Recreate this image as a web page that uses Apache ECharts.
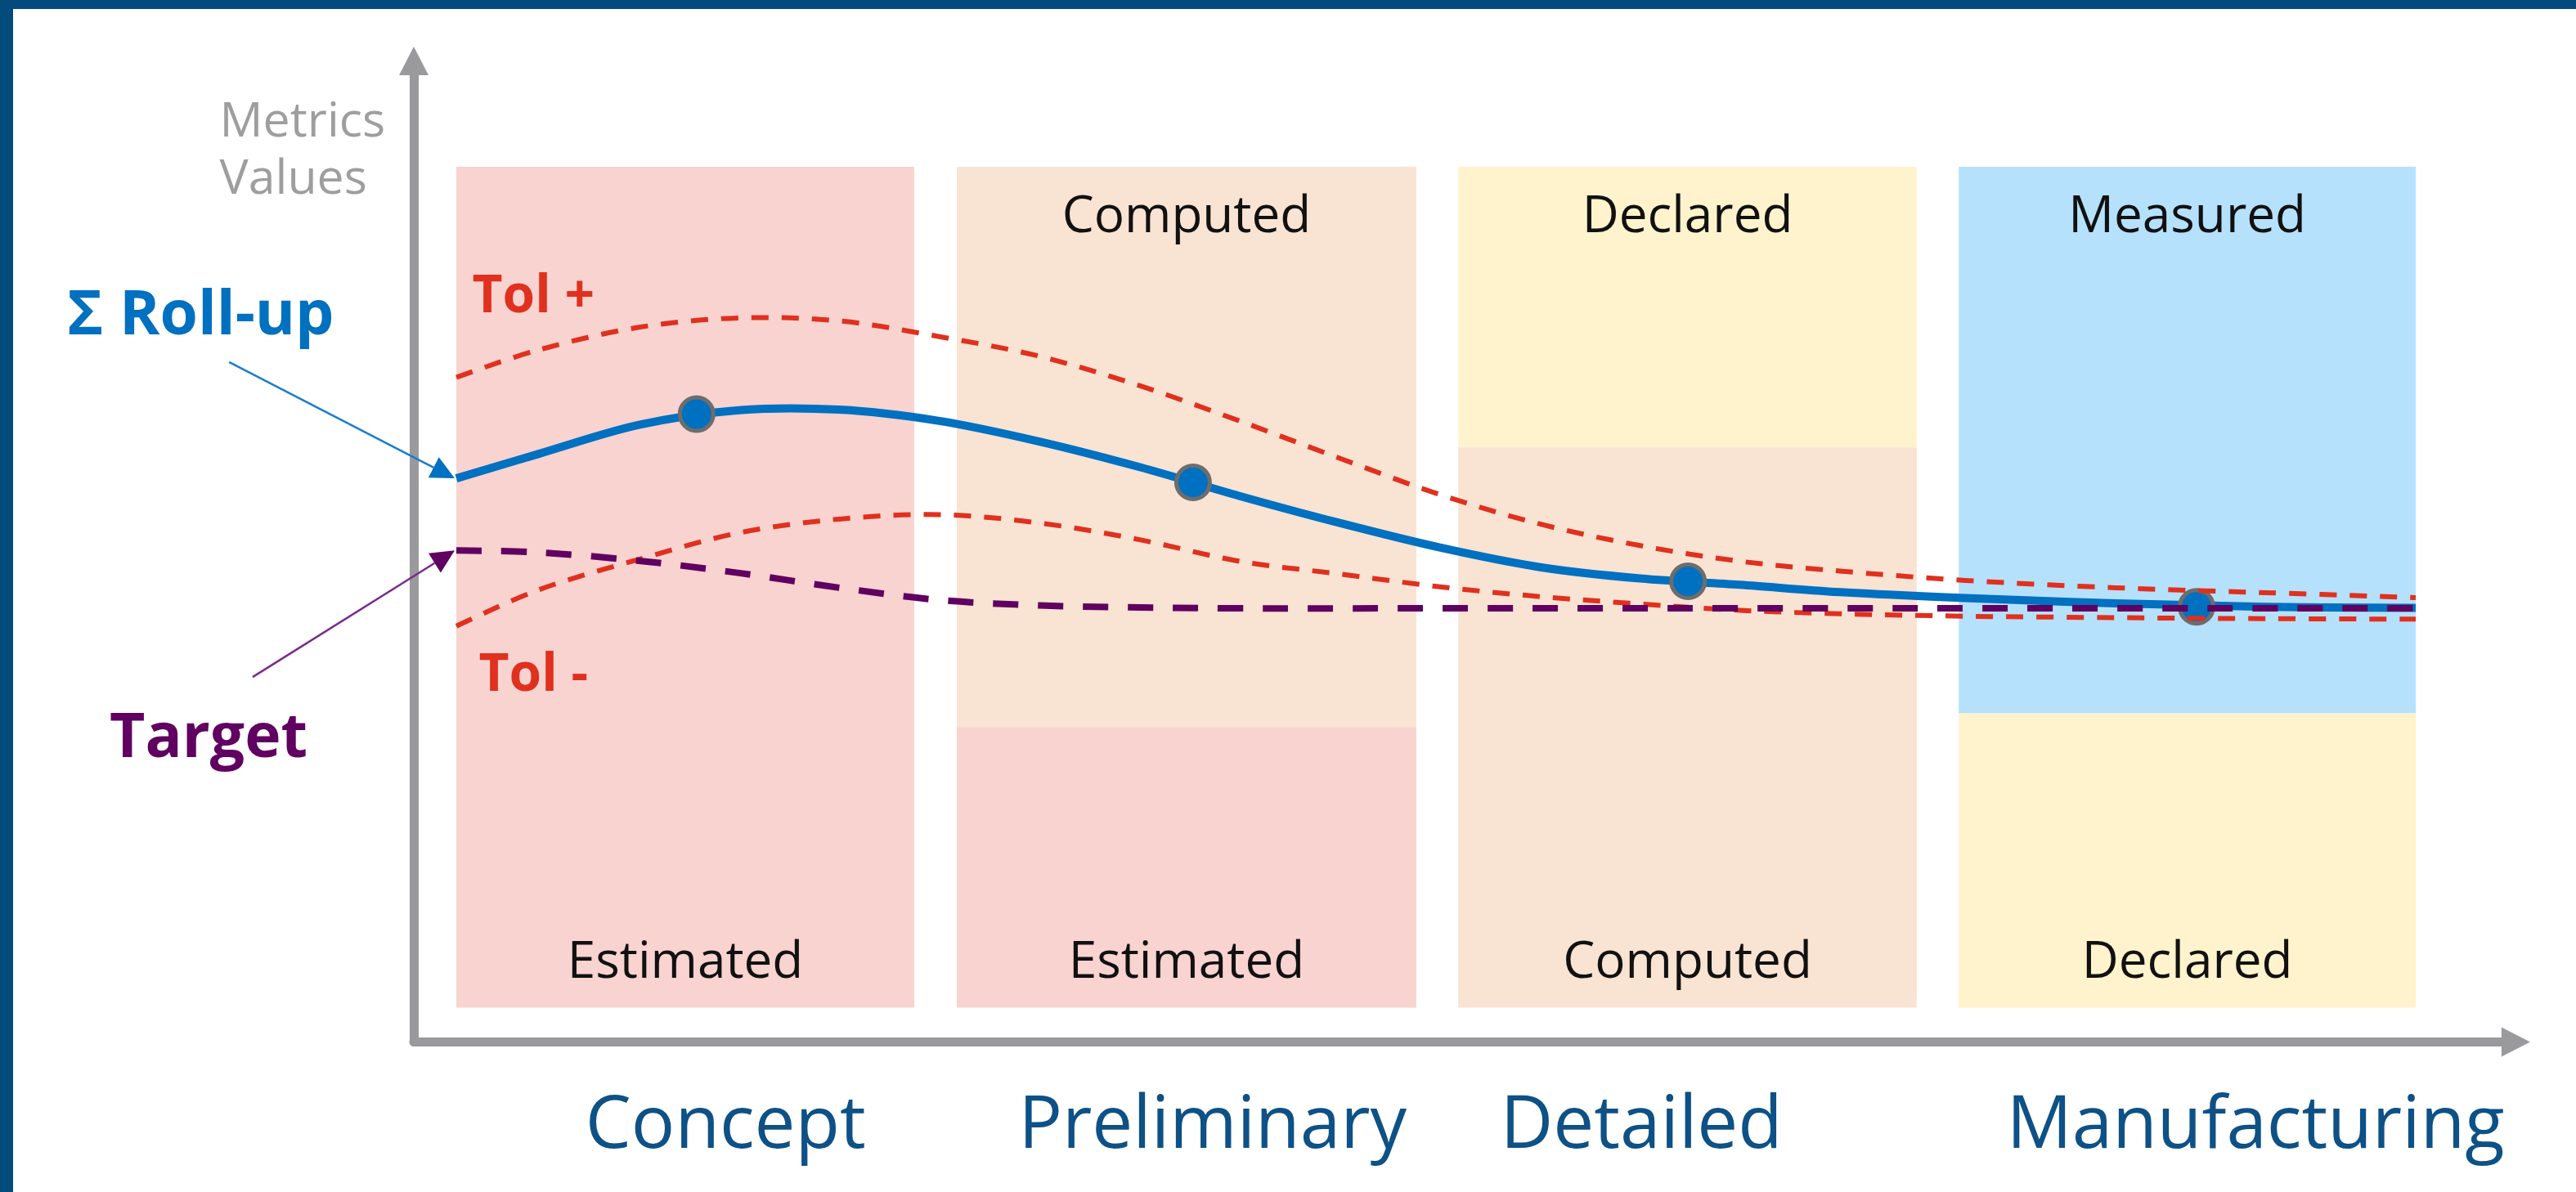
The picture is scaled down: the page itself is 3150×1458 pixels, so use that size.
<!DOCTYPE html>
<html><head><meta charset="utf-8">
<script src="https://cdn.jsdelivr.net/npm/echarts@6/dist/echarts.min.js"></script>
<style>
html,body{margin:0;padding:0;width:3150px;height:1458px;background:#034b7d;overflow:hidden}
#chart{position:absolute;left:16px;top:11px;width:3134px;height:1447px;background:#ffffff}
</style></head><body><div id="chart"></div>
<script>
// ---------- data ----------
const phases = ['Concept', 'Preliminary', 'Detailed', 'Manufacturing'];
const phaseStart = [0.085, 1.085, 2.087, 3.087];
const phaseEnd = [1.0, 2.003, 3.003, 4.0];
const phaseLabelX = [0.623, 1.596, 2.453, 3.680];
const lowerMethod = ['Estimated', 'Estimated', 'Computed', 'Declared'];
const upperMethod = ['Estimated', 'Computed', 'Declared', 'Measured'];
const methodSplit = [46.0, 32.1, 60.6, 33.5];
const bandRange = [3.5, 89.2];

const rollUp = [[0.085,57.45],[0.25,59.95],[0.45,62.9],[0.65,64.4],[0.85,64.45],[1.05,63.3],[1.25,61.2],[1.45,58.6],[1.65,55.65],[1.85,52.9],[2.05,50.4],[2.25,48.4],[2.45,47.25],[2.65,46.6],[2.85,45.85],[3.1,45.25],[3.4,44.7],[3.7,44.35],[4.0,44.25]];
const milestones = [[0.565,64.0],[1.557,57.05],[2.546,46.95],[3.562,44.35]];
const target = [[0.085,50.1],[0.25,49.9],[0.45,49.05],[0.65,47.8],[0.85,46.3],[1.05,45.05],[1.25,44.5],[1.45,44.3],[1.65,44.2],[2.05,44.2],[3.0,44.2],[4.0,44.2]];
const tolPlus = [[0.085,67.75],[0.25,70.55],[0.45,72.85],[0.65,73.8],[0.85,73.5],[1.05,71.9],[1.25,69.9],[1.45,66.9],[1.65,63.3],[1.85,59.5],[2.05,55.8],[2.25,52.8],[2.45,50.6],[2.65,49.0],[2.85,48.0],[3.1,47.05],[3.4,46.3],[3.7,45.8],[4.0,45.3]];
const tolMinus = [[0.085,42.4],[0.25,46.1],[0.45,49.2],[0.65,51.9],[0.85,53.3],[1.05,53.75],[1.25,52.9],[1.45,51.2],[1.65,49.0],[1.85,47.7],[2.05,46.4],[2.25,45.4],[2.45,44.65],[2.65,44.0],[2.85,43.65],[3.1,43.4],[3.4,43.25],[3.7,43.15],[4.0,43.1]];

const annotationTexts = ['Σ Roll-up', 'Target', 'Tol +', 'Tol -', 'Metrics\nValues'];
const annotationAt = [[-0.426, 74.5], [-0.410, 31.4], [0.239, 76.4], [0.239, 37.8], [-0.388, 91.2]];
const calloutTail = [[-0.369, 69.3], [-0.322, 37.2]];
const phaseLabelY = -8.04;
const methodLabelY = [8.5, 84.5];

// ---------- styles ----------
const FONT = "'Open Sans', 'Noto Sans', sans-serif";
const BASE_SHIFT = 0.09; // cap-centre correction, in em
const methodColor = { Estimated: '#f8d3d0', Computed: '#f9e3d3', Declared: '#fef3cc', Measured: '#b6e1fc' };
const annotationStyle = [
  { fill: '#0070c0', fontSize: 75, fontWeight: 'bold', align: 'center' },
  { fill: '#600060', fontSize: 75, fontWeight: 'bold', align: 'center' },
  { fill: '#e0301e', fontSize: 64, fontWeight: 'bold', align: 'center' },
  { fill: '#e0301e', fontSize: 64, fontWeight: 'bold', align: 'center' },
  { fill: '#9e9e9e', fontSize: 59, fontWeight: 'normal', align: 'left', lineHeight: 69.5 }
];
const calloutColor = ['#1a7ccc', '#7a2a8c'];
const AXIS_GRAY = '#9a9a9c';

const chart = echarts.init(document.getElementById('chart'), null, { renderer: 'canvas' });

function txt(text, x, y, size, fill, extra) {
  return { type: 'text', x: x, y: y + size * BASE_SHIFT, style: Object.assign({ text: text, fill: fill, fontSize: size,
    fontFamily: FONT, align: 'center', verticalAlign: 'middle' }, extra || {}) };
}

function panelItem(params, api) {
  const i = params.dataIndex;
  const x0 = phaseStart[i], x1 = phaseEnd[i];
  const tl = api.coord([x0, bandRange[1]]);
  const br = api.coord([x1, bandRange[0]]);
  const children = [];
  const cx = (tl[0] + br[0]) / 2;
  if (upperMethod[i] === lowerMethod[i]) {
    children.push({ type: 'rect', shape: { x: tl[0], y: tl[1], width: br[0] - tl[0], height: br[1] - tl[1] },
      style: { fill: methodColor[lowerMethod[i]] } });
  } else {
    const sp = api.coord([x0, methodSplit[i]]);
    children.push({ type: 'rect', shape: { x: tl[0], y: tl[1], width: br[0] - tl[0], height: sp[1] - tl[1] },
      style: { fill: methodColor[upperMethod[i]] } });
    children.push({ type: 'rect', shape: { x: tl[0], y: sp[1], width: br[0] - tl[0], height: br[1] - sp[1] },
      style: { fill: methodColor[lowerMethod[i]] } });
    const ty = api.coord([x0, methodLabelY[1]])[1];
    children.push(txt(upperMethod[i], cx, ty, 62, '#111111'));
  }
  const by = api.coord([x0, methodLabelY[0]])[1];
  children.push(txt(lowerMethod[i], cx, by, 62, '#111111'));
  const lp = api.coord([phaseLabelX[i], phaseLabelY]);
  children.push(txt(phases[i], lp[0], lp[1], 89, '#0d5186'));
  return { type: 'group', children };
}

// smooth curve through the data points (Catmull-Rom, drawn in screen space via the axes)
function curveRenderer(points, lineStyle) {
  return function (params, api) {
    if (params.dataIndex !== 0) return null;
    const px = points.map(p => api.coord(p));
    const n = px.length;
    let d = 'M' + px[0][0] + ' ' + px[0][1];
    for (let i = 0; i < n - 1; i++) {
      const p0 = px[Math.max(i - 1, 0)], p1 = px[i], p2 = px[i + 1], p3 = px[Math.min(i + 2, n - 1)];
      const c1x = p1[0] + (p2[0] - p0[0]) / 6, c1y = p1[1] + (p2[1] - p0[1]) / 6;
      const c2x = p2[0] - (p3[0] - p1[0]) / 6, c2y = p2[1] - (p3[1] - p1[1]) / 6;
      d += ' C' + c1x + ' ' + c1y + ' ' + c2x + ' ' + c2y + ' ' + p2[0] + ' ' + p2[1];
    }
    return { type: 'path', shape: { pathData: d }, style: Object.assign({ fill: null }, lineStyle) };
  };
}

function textItem(params, api) {
  const i = params.dataIndex;
  const p = api.coord(annotationAt[i]);
  const s = annotationStyle[i];
  return txt(annotationTexts[i], p[0], p[1], s.fontSize, s.fill, s);
}

function calloutItem(params, api) {
  const i = params.dataIndex;
  const head = i === 0 ? rollUp[0] : target[0];
  const a = api.coord(calloutTail[i]);
  const b = api.coord(head);
  b[0] -= 2;
  const dx = b[0] - a[0], dy = b[1] - a[1];
  const L = Math.sqrt(dx * dx + dy * dy);
  const ux = dx / L, uy = dy / L;
  const len = 29, hw = 14;
  const bx = b[0] - ux * len, by = b[1] - uy * len;
  return { type: 'group', children: [
    { type: 'line', shape: { x1: a[0], y1: a[1], x2: bx, y2: by }, style: { stroke: calloutColor[i], lineWidth: 2.5 } },
    { type: 'polygon', shape: { points: [[b[0], b[1]], [bx - uy * hw, by + ux * hw], [bx + uy * hw, by - ux * hw]] },
      style: { fill: i === 0 ? '#0070c0' : '#600060' } }
  ] };
}

function curveSeries(name, points, z, lineStyle) {
  return { name: name, type: 'custom', clip: false, silent: true, z: z, data: points,
    encode: { x: 0, y: 1 }, renderItem: curveRenderer(points, lineStyle) };
}

const option = {
  animation: false,
  backgroundColor: '#ffffff',
  grid: { left: 490, top: 63.5, width: 2570.4, height: 1200 },
  xAxis: {
    type: 'value', min: 0, max: 4.2,
    axisLine: { show: true, lineStyle: { color: AXIS_GRAY, width: 11 }, symbol: ['none', 'triangle'], symbolSize: [36, 35] },
    axisTick: { show: false }, axisLabel: { show: false }, splitLine: { show: false }
  },
  yAxis: {
    type: 'value', min: 0, max: 100,
    axisLine: { show: true, lineStyle: { color: AXIS_GRAY, width: 11 }, symbol: ['none', 'triangle'], symbolSize: [36, 35] },
    axisTick: { show: false }, axisLabel: { show: false }, splitLine: { show: false }
  },
  series: [
    { name: 'Phases', type: 'custom', clip: false, silent: true, z: 1,
      data: phases.map((p, i) => [phaseStart[i], bandRange[0], phaseEnd[i], bandRange[1]]),
      encode: { x: [0, 2], y: [1, 3] }, renderItem: panelItem },
    curveSeries('Σ Roll-up', rollUp, 2, { stroke: '#0070c0', lineWidth: 10 }),
    { name: 'Milestones', type: 'scatter', data: milestones, symbol: 'circle', symbolSize: 41, silent: true, z: 3,
      itemStyle: { color: '#0070c0', borderColor: '#6d6d6d', borderWidth: 5, opacity: 1 } },
    curveSeries('Tol +', tolPlus, 4, { stroke: '#e0301e', lineWidth: 6, lineDash: [21, 16] }),
    curveSeries('Tol -', tolMinus, 4, { stroke: '#e0301e', lineWidth: 6, lineDash: [21, 16] }),
    curveSeries('Target', target, 5, { stroke: '#600060', lineWidth: 8, lineDash: [31, 24] }),
    { name: 'Callouts', type: 'custom', clip: false, silent: true, z: 6,
      data: calloutTail.map(p => [p[0], p[1]]), renderItem: calloutItem },
    { name: 'Annotations', type: 'custom', clip: false, silent: true, z: 7,
      data: annotationAt.map(p => [p[0], p[1]]), renderItem: textItem }
  ]
};
chart.setOption(option);
</script></body></html>
